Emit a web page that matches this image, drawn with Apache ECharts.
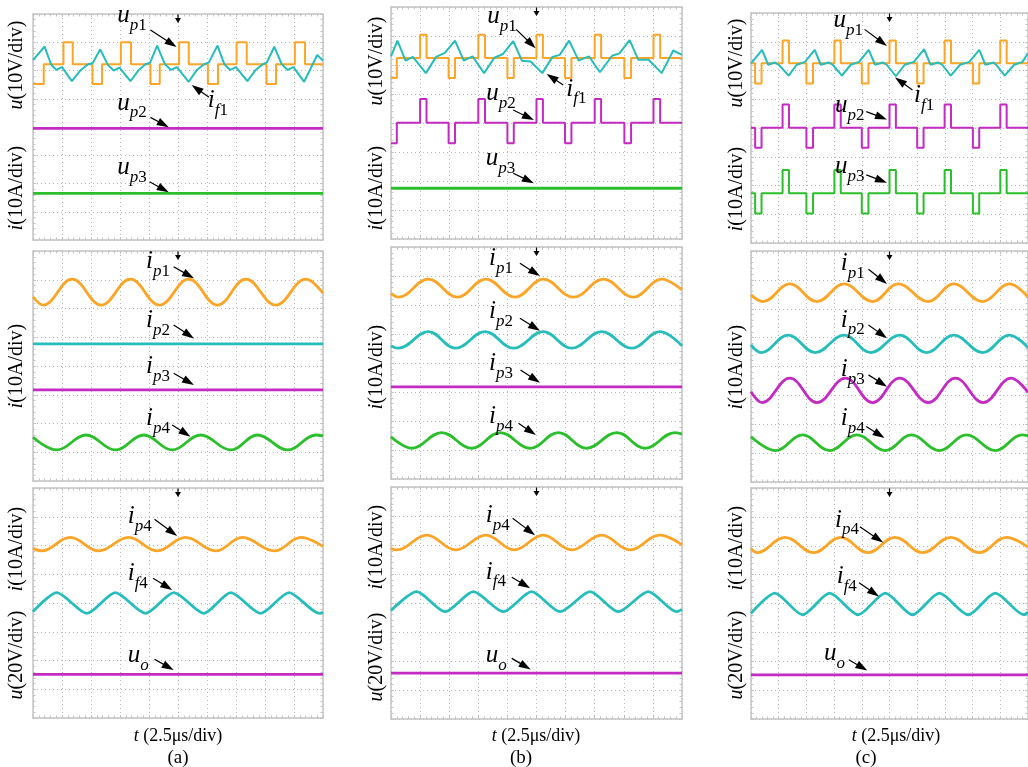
<!DOCTYPE html>
<html><head><meta charset="utf-8">
<script src="https://cdn.jsdelivr.net/npm/echarts@6/dist/echarts.min.js"></script>
<style>html,body{margin:0;padding:0;background:#fff}#c{width:1028px;height:767px}</style>
</head><body><div id="c"></div>
<script>
// ---------- data (x in divisions 0..10, y in divisions 0..8) ----------
// Panel (a) top
const a1Up1 = [[0,5.52],[0.37,6.22],[1.05,7.0],[1.37,6.22],[2.05,5.52],[2.38,6.22],[3.03,7.0],[3.38,6.22],[4.05,5.52],[4.37,6.22],[5.04,7.0],[5.37,6.22],[6.03,5.52],[6.38,6.22],[7.02,7.0],[7.37,6.22],[8.05,5.52],[8.38,6.22],[9.03,7.0],[9.38,6.22],[10,6.22]];
const a1If1 = [[0,6.37],[0.40,6.85],[0.62,6.22],[0.80,6.02],[1.00,6.12],[1.34,5.62],[1.65,6.02],[1.90,6.22],[2.05,6.25],[2.32,6.75],[2.58,6.20],[2.78,6.00],[2.98,6.10],[3.36,5.62],[3.65,6.02],[3.88,6.22],[4.04,6.28],[4.28,6.88],[4.55,6.22],[4.76,6.02],[4.96,6.12],[5.37,5.60],[5.65,6.02],[5.90,6.22],[6.06,6.28],[6.36,6.88],[6.60,6.22],[6.80,6.02],[7.00,6.12],[7.39,5.62],[7.68,6.02],[7.92,6.22],[8.06,6.28],[8.32,6.84],[8.58,6.22],[8.78,6.02],[8.98,6.12],[9.35,5.60],[9.80,6.55],[10,6.35]];
const a1Up2 = [[0,3.95],[10,3.95]];
const a1Up3 = [[0,1.65],[10,1.65]];
// Panel (a) middle
const a2Ip1 = [[0,6.41],[0.35,6.12],[1.35,7.02],[2.35,6.12],[3.36,7.02],[4.36,6.12],[5.37,7.02],[6.36,6.12],[7.34,7.02],[8.37,6.12],[9.41,7.02],[10,6.53]];
const a2Ip2 = [[0,4.77],[10,4.77]];
const a2Ip3 = [[0,3.17],[10,3.17]];
const a2Ip4 = [[0,1.52],[0.82,1.08],[1.83,1.60],[2.84,1.08],[3.82,1.60],[4.80,1.08],[5.78,1.60],[6.82,1.08],[7.74,1.60],[8.78,1.08],[9.76,1.60],[10,1.57]];
// Panel (a) bottom
const a3Ip4 = [[0,5.90],[0.30,5.81],[1.28,6.28],[2.26,5.81],[3.30,6.28],[4.28,5.81],[5.26,6.28],[6.30,5.81],[7.22,6.28],[8.32,5.81],[9.24,6.28],[10,5.96]];
const a3If4 = [[0,3.70],[0.82,4.36],[1.86,3.64],[2.84,4.36],[3.88,3.64],[4.86,4.36],[5.89,3.64],[6.82,4.36],[7.85,3.64],[8.83,4.36],[9.87,3.64],[10,3.68]];
const a3Uo = [[0,1.52],[10,1.52]];
// Panel (b) top
const b1Up1 = [[0,5.55],[0.2,6.24],[1.0,7.04],[1.22,6.24],[1.98,5.55],[2.2,6.24],[3.0,7.04],[3.23,6.24],[4.0,5.55],[4.22,6.24],[5.0,7.04],[5.22,6.24],[5.98,5.55],[6.2,6.24],[7.0,7.04],[7.22,6.24],[8.02,5.55],[8.25,6.24],[9.02,7.04],[9.25,6.24],[10,6.24]];
const b1If1 = [[0,6.3],[0.22,6.84],[0.5,6.15],[0.75,6.28],[1.2,5.72],[1.55,6.28],[1.85,6.42],[2.2,6.84],[2.5,6.15],[2.8,6.3],[3.2,5.72],[3.55,6.25],[3.85,6.38],[4.2,6.82],[4.5,6.15],[4.8,6.12],[5.2,5.72],[5.55,6.28],[5.8,6.35],[6.12,6.84],[6.45,6.15],[6.8,6.3],[7.18,5.75],[7.6,6.32],[7.85,6.4],[8.2,6.86],[8.5,6.18],[8.85,6.18],[9.3,5.72],[9.7,6.5],[10,6.35]];
const b1Up2 = [[0,3.3],[0.2,4.01],[1.0,4.83],[1.22,4.01],[1.98,3.3],[2.2,4.01],[3.0,4.83],[3.23,4.01],[4.0,3.3],[4.22,4.01],[5.0,4.83],[5.22,4.01],[5.98,3.3],[6.2,4.01],[7.0,4.83],[7.22,4.01],[8.02,3.3],[8.25,4.01],[9.02,4.83],[9.25,4.01],[10,4.01]];
const b1Up3 = [[0,1.75],[10,1.75]];
// Panel (b) middle
const b2Ip1 = [[0,6.40],[0.25,6.27],[1.28,6.89],[2.28,6.27],[3.26,6.89],[4.26,6.27],[5.23,6.89],[6.27,6.27],[7.30,6.89],[8.33,6.27],[9.30,6.89],[10,6.52]];
const b2Ip2 = [[0,4.59],[0.25,4.51],[1.28,5.08],[2.22,4.51],[3.23,5.08],[4.21,4.51],[5.23,5.08],[6.21,4.51],[7.24,5.08],[8.27,4.51],[9.24,5.08],[10,4.59]];
const b2Ip3 = [[0,3.18],[10,3.18]];
const b2Ip4 = [[0,1.46],[0.71,1.06],[1.74,1.60],[2.77,1.06],[3.75,1.60],[4.78,1.06],[5.75,1.60],[6.72,1.06],[7.76,1.60],[8.73,1.06],[9.76,1.60],[10,1.55]];
// Panel (b) bottom
const b3Ip4 = [[0,5.89],[0.19,5.83],[1.23,6.34],[2.22,5.83],[3.26,6.34],[4.23,5.83],[5.23,6.34],[6.21,5.83],[7.24,6.34],[8.21,5.83],[9.24,6.34],[10,6.0]];
const b3If4 = [[0,3.74],[0.88,4.39],[1.86,3.70],[2.83,4.39],[3.86,3.70],[4.83,4.39],[5.81,3.70],[6.84,4.39],[7.81,3.70],[8.84,4.39],[9.82,3.70],[10,3.78]];
const b3Uo = [[0,1.58],[10,1.58]];
// Panel (c) top
const c1Up1 = [[0,6.25],[0.15,5.55],[0.38,6.25],[1.14,7.04],[1.37,6.25],[2.0,5.55],[2.24,6.25],[3.01,7.04],[3.24,6.25],[4.0,5.55],[4.24,6.25],[5.0,7.04],[5.23,6.25],[6.0,5.55],[6.23,6.25],[6.99,7.04],[7.22,6.25],[8.01,5.55],[8.24,6.25],[9.0,7.04],[9.23,6.25],[10,6.25]];
const c1If1 = [[0,6.25],[0.4,6.72],[0.62,6.2],[0.85,6.28],[1.0,6.2],[1.36,5.82],[1.65,6.2],[1.95,6.3],[2.3,6.72],[2.52,6.2],[2.8,6.28],[2.95,6.2],[3.28,5.82],[3.6,6.2],[3.9,6.3],[4.25,6.72],[4.48,6.2],[4.75,6.28],[4.9,6.2],[5.23,5.8],[5.55,6.2],[5.88,6.3],[6.25,6.74],[6.48,6.2],[6.75,6.28],[6.9,6.2],[7.21,5.82],[7.55,6.2],[7.88,6.3],[8.24,6.72],[8.46,6.2],[8.75,6.28],[8.85,6.2],[9.16,5.82],[9.5,6.2],[9.8,6.3],[10,6.6]];
const c1Up2 = [[0,4.01],[0.15,3.31],[0.38,4.01],[1.14,4.82],[1.37,4.01],[2.0,3.31],[2.24,4.01],[3.01,4.82],[3.24,4.01],[4.0,3.31],[4.24,4.01],[5.0,4.82],[5.23,4.01],[6.0,3.31],[6.23,4.01],[6.99,4.82],[7.22,4.01],[8.01,3.31],[8.24,4.01],[9.0,4.82],[9.23,4.01],[10,4.01]];
const c1Up3 = [[0,1.73],[0.15,1.03],[0.38,1.73],[1.14,2.54],[1.37,1.73],[2.0,1.03],[2.24,1.73],[3.01,2.54],[3.24,1.73],[4.0,1.03],[4.24,1.73],[5.0,2.54],[5.23,1.73],[6.0,1.03],[6.23,1.73],[6.99,2.54],[7.22,1.73],[8.01,1.03],[8.24,1.73],[9.0,2.54],[9.23,1.73],[10,1.73]];
// Panel (c) middle
const c2Ip1 = [[0,6.48],[0.43,6.25],[1.40,6.86],[2.38,6.25],[3.36,6.86],[4.39,6.25],[5.31,6.86],[6.40,6.25],[7.32,6.86],[8.36,6.25],[9.33,6.86],[10,6.4]];
const c2Ip2 = [[0,4.75],[0.37,4.48],[1.34,5.09],[2.32,4.48],[3.36,5.09],[4.33,4.48],[5.37,5.09],[6.34,4.48],[7.32,5.09],[8.36,4.48],[9.33,5.09],[10,4.65]];
const c2Ip3 = [[0,3.13],[0.40,2.75],[1.40,3.60],[2.38,2.75],[3.41,3.60],[4.39,2.75],[5.37,3.60],[6.40,2.75],[7.38,3.60],[8.38,2.75],[9.39,3.60],[10,3.1]];
const c2Ip4 = [[0,1.57],[0.89,1.09],[1.86,1.63],[2.84,1.09],[3.82,1.63],[4.85,1.09],[5.79,1.63],[6.80,1.09],[7.78,1.63],[8.82,1.09],[9.79,1.63],[10,1.6]];
// Panel (c) bottom
const c3Ip4 = [[0,5.91],[0.22,5.76],[1.23,6.29],[2.26,5.76],[3.24,6.29],[4.22,5.76],[5.20,6.29],[6.20,5.76],[7.21,6.29],[8.24,5.76],[9.22,6.29],[10,5.95]];
const c3If4 = [[0,3.66],[0.86,4.36],[1.86,3.61],[2.84,4.36],[3.87,3.61],[4.85,4.36],[5.83,3.61],[6.80,4.36],[7.84,3.61],[8.82,4.36],[9.85,3.61],[10,3.7]];
const c3Uo = [[0,1.53],[10,1.53]];

// ---------- annotations: [main, sub(italic), sub(upright), x, y(baseline)] and arrows [x1,y1,x2,y2] ----------
const a1Labels = [['u','p','1',2.94,7.61],['i','f','1',6.06,4.60],['u','p','2',2.94,4.50],['u','p','3',2.94,2.23]];
const a1Arrows = [[4.05,7.43,4.95,6.83],[6.07,5.05,5.47,5.49],[4.05,4.34,4.68,3.99],[4.02,2.06,4.68,1.69]];
const a2Labels = [['i','p','1',3.93,7.28],['i','p','2',3.93,5.25],['i','p','3',3.93,3.63],['i','p','4',3.93,1.83]];
const a2Arrows = [[4.85,7.45,5.55,7.05],[4.85,5.43,5.55,4.96],[4.85,3.75,5.55,3.34],[4.8,1.95,5.43,1.54]];
const a3Labels = [['i','p','4',3.30,6.65],['i','f','4',3.30,4.69],['u','o','',3.30,1.84]];
const a3Arrows = [[4.19,6.91,4.97,6.33],[4.14,4.86,4.8,4.45],[4.19,2.04,4.85,1.67]];
const b1Labels = [['u','p','1',3.34,7.32],['i','f','1',6.06,4.83],['u','p','2',3.31,4.68],['u','p','3',3.29,2.44]];
const b1Arrows = [[4.3,7.23,4.97,6.58],[5.92,5.31,5.35,5.69],[4.2,4.45,4.91,4.10],[4.2,2.27,4.91,1.92]];
const b2Labels = [['i','p','1',3.40,7.27],['i','p','2',3.40,5.42],['i','p','3',3.40,3.64],['i','p','4',3.40,1.80]];
const b2Arrows = [[4.43,7.44,5.12,7.0],[4.43,5.54,5.12,5.11],[4.45,3.76,5.12,3.32],[4.38,1.92,4.98,1.52]];
const b3Labels = [['i','p','4',3.29,6.69],['i','f','4',3.29,4.73],['u','o','',3.29,1.86]];
const b3Arrows = [[4.18,6.92,4.95,6.34],[4.15,4.89,4.78,4.51],[4.15,2.09,4.80,1.71]];
const c1Labels = [['u','p','1',3.01,7.41],['i','f','1',5.92,4.80],['u','p','2',3.07,4.45],['u','p','3',3.07,2.31]];
const c1Arrows = [[4.10,7.43,4.91,6.85],[5.83,5.32,5.2,5.76],[4.16,4.57,4.91,4.30],[4.16,2.37,4.91,2.10]];
const c2Labels = [['i','p','1',3.28,7.23],['i','p','2',3.28,5.27],['i','p','3',3.28,3.54],['i','p','4',3.28,1.87]];
const c2Arrows = [[4.24,7.37,4.91,6.86],[4.24,5.44,4.91,4.98],[4.24,3.71,4.91,3.30],[4.16,1.92,4.82,1.52]];
const c3Labels = [['i','p','4',3.07,6.55],['i','f','4',3.13,4.58],['u','o','',2.67,1.93]];
const c3Arrows = [[3.93,6.66,4.77,6.11],[3.9,4.72,4.62,4.24],[3.53,2.05,4.20,1.68]];

// axis-name texts: [italic var, rest]
const yNameU10 = ['u','(10V/div)'];
const yNameI10 = ['i','(10A/div)'];
const yNameU20 = ['u','(20V/div)'];
const xName = ['t',' (2.5\u03bcs/div)'];
const subCaptions = ['(a)','(b)','(c)'];

// ---------- styling ----------
const ORANGE = '#fda526', CYAN = '#26bdbd', MAGENTA = '#c42ac4', GREEN = '#2bbf2b';
const FONT = 'Liberation Serif';

const panels = [
  {left:33, top:14, width:290, height:226, traces:[[a1Up1,ORANGE,'step'],[a1If1,CYAN,'poly'],[a1Up2,MAGENTA,'flat'],[a1Up3,GREEN,'flat']], labels:a1Labels, arrows:a1Arrows},
  {left:33, top:251, width:290, height:230, traces:[[a2Ip1,ORANGE,'sine'],[a2Ip2,CYAN,'flat'],[a2Ip3,MAGENTA,'flat'],[a2Ip4,GREEN,'sine']], labels:a2Labels, arrows:a2Arrows},
  {left:33, top:488, width:290, height:230, traces:[[a3Ip4,ORANGE,'sine'],[a3If4,CYAN,'tri'],[a3Uo,MAGENTA,'flat']], labels:a3Labels, arrows:a3Arrows},
  {left:391, top:7, width:291, height:232, traces:[[b1Up1,ORANGE,'step'],[b1If1,CYAN,'poly'],[b1Up2,MAGENTA,'step'],[b1Up3,GREEN,'flat']], labels:b1Labels, arrows:b1Arrows},
  {left:391, top:247, width:291, height:232, traces:[[b2Ip1,ORANGE,'sine'],[b2Ip2,CYAN,'sine'],[b2Ip3,MAGENTA,'flat'],[b2Ip4,GREEN,'sine']], labels:b2Labels, arrows:b2Arrows},
  {left:391, top:487, width:291, height:232, traces:[[b3Ip4,ORANGE,'sine'],[b3If4,CYAN,'tri'],[b3Uo,MAGENTA,'flat']], labels:b3Labels, arrows:b3Arrows},
  {left:751, top:13, width:290, height:230, traces:[[c1Up1,ORANGE,'step'],[c1If1,CYAN,'poly'],[c1Up2,MAGENTA,'step'],[c1Up3,GREEN,'step']], labels:c1Labels, arrows:c1Arrows},
  {left:751, top:251, width:290, height:231, traces:[[c2Ip1,ORANGE,'sine'],[c2Ip2,CYAN,'sine'],[c2Ip3,MAGENTA,'sine'],[c2Ip4,GREEN,'sine']], labels:c2Labels, arrows:c2Arrows},
  {left:751, top:488, width:290, height:231, traces:[[c3Ip4,ORANGE,'sine'],[c3If4,CYAN,'tri'],[c3Uo,MAGENTA,'flat']], labels:c3Labels, arrows:c3Arrows}
];

const chart = echarts.init(document.getElementById('c'), null, {renderer:'canvas'});
const grid = [], xAxis = [], yAxis = [], series = [];
const BORDER = '#c4c4c4';
function makeAxis(i, max, pos, split) {
  return {
    gridIndex:i, type:'value', min:0, max:max, interval:1, position:pos,
    axisLabel:{show:false},
    axisLine:{show:true, onZero:false, lineStyle:{color:BORDER, width:1.5}},
    axisTick:{show:true, inside:true, length:3, lineStyle:{color:BORDER}},
    minorTick:{show:true, splitNumber:5, length:2.5, lineStyle:{color:BORDER}},
    splitLine:{show:split, lineStyle:{color:'#b8b8b8', type:[1,3], width:1}},
    minorSplitLine:{show:false}
  };
}
panels.forEach((p, i) => {
  grid.push({left:p.left, top:p.top, width:p.width, height:p.height, show:false});
  xAxis.push(makeAxis(i, 10, 'bottom', true), makeAxis(i, 10, 'top', false));
  yAxis.push(makeAxis(i, 8, 'left', true), makeAxis(i, 8, 'right', false));
  p.traces.forEach(t => {
    const kind = t[2];
    series.push({
      type:'line', xAxisIndex:2*i, yAxisIndex:2*i, data:t[0],
      symbol:'none', showSymbol:false, silent:true, animation:false, clip:true,
      smooth: kind === 'sine' ? 0.4 : (kind === 'tri' ? 0.25 : false),
      step: kind === 'step' ? 'end' : false,
      lineStyle:{color:t[1], width: kind === 'step' || kind === 'poly' ? 2 : 2.8},
      itemStyle:{color:t[1]}
    });
  });
});
chart.setOption({animation:false, backgroundColor:'#ffffff', grid, xAxis, yAxis, series});

// ---------- annotations as graphic elements ----------
const g = [];
const labelRich = {
  m:{fontFamily:FONT, fontStyle:'italic', fontSize:25, lineHeight:28, verticalAlign:'top', fill:'#000'},
  si:{fontFamily:FONT, fontStyle:'italic', fontSize:17, lineHeight:17, padding:[14,0,0,0], verticalAlign:'top', fill:'#000'},
  sn:{fontFamily:FONT, fontStyle:'normal', fontSize:17, lineHeight:17, padding:[14,0,0,0], verticalAlign:'top', fill:'#000'}
};
function arrow(x1, y1, x2, y2, hl, hw, lw) {
  const dx = x2 - x1, dy = y2 - y1, len = Math.hypot(dx, dy), ux = dx/len, uy = dy/len;
  const bx = x2 - ux*hl, by = y2 - uy*hl;
  g.push({type:'line', z:100, silent:true, shape:{x1:x1, y1:y1, x2:bx + ux*2, y2:by + uy*2}, style:{stroke:'#000', lineWidth:lw}});
  g.push({type:'polygon', z:100, silent:true, shape:{points:[[x2,y2],[bx - uy*hw, by + ux*hw],[bx + uy*hw, by - ux*hw]]}, style:{fill:'#000'}});
}
panels.forEach((p, i) => {
  const toPx = (x, y) => chart.convertToPixel({xAxisIndex:2*i, yAxisIndex:2*i}, [x, y]);
  // trigger marker at top centre
  const tp = toPx(5, 8);
  arrow(tp[0], tp[1] + 0.5, tp[0], tp[1] + 9, 5, 3, 1.2);
  p.labels.forEach(l => {
    const pt = toPx(l[3], l[4]);
    let txt = '{m|' + l[0] + '}{si|' + l[1] + '}';
    if (l[2]) txt += '{sn|' + l[2] + '}';
    g.push({type:'text', z:100, silent:true, x:pt[0] - 1, y:pt[1] - 22.4,
      style:{text:txt, rich:labelRich, align:'left', verticalAlign:'top'}});
  });
  p.arrows.forEach(a => {
    const s = toPx(a[0], a[1]), e = toPx(a[2], a[3]);
    arrow(s[0], s[1], e[0], e[1], 12, 4, 1.2);
  });
});
// rotated axis names
const nameRich = {
  i:{fontFamily:FONT, fontStyle:'italic', fontSize:20, fill:'#000'},
  n:{fontFamily:FONT, fontStyle:'normal', fontSize:20, fill:'#000'}
};
const yNames = [
  [yNameU10,17,65],[yNameI10,17,188],[yNameI10,17,366],[yNameI10,17,549],[yNameU20,17,655],
  [yNameU10,377,61],[yNameI10,377,188],[yNameI10,377,367],[yNameI10,377,547],[yNameU20,377,657],
  [yNameU10,737,63],[yNameI10,737,189],[yNameI10,737,367],[yNameI10,737,548],[yNameU20,737,655]
];
yNames.forEach(n => {
  g.push({type:'text', z:100, silent:true, x:n[1], y:n[2], rotation:Math.PI/2,
    style:{text:'{i|' + n[0][0] + '}{n|' + n[0][1] + '}', rich:nameRich, align:'center', verticalAlign:'middle'}});
});
const xRich = {
  i:{fontFamily:FONT, fontStyle:'italic', fontSize:18, fill:'#000'},
  n:{fontFamily:FONT, fontStyle:'normal', fontSize:18, fill:'#000'}
};
[[178,0],[536,1],[896,2]].forEach(c => {
  g.push({type:'text', z:100, silent:true, x:c[0], y:736,
    style:{text:'{i|' + xName[0] + '}{n|' + xName[1] + '}', rich:xRich, align:'center', verticalAlign:'middle'}});
});
[[178,0],[521,1],[866,2]].forEach(c => {
  g.push({type:'text', z:100, silent:true, x:c[0], y:758,
    style:{text:subCaptions[c[1]], fontFamily:FONT, fontSize:19, fill:'#000', align:'center', verticalAlign:'middle'}});
});
chart.setOption({graphic:{elements:g}});
</script>
</body></html>
